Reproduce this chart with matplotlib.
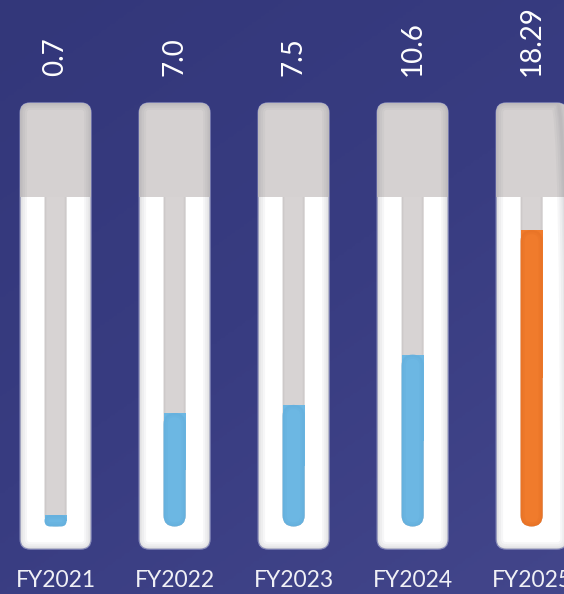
import numpy as np
import matplotlib.pyplot as plt
from matplotlib.patches import FancyBboxPatch, Rectangle
from matplotlib.colors import LinearSegmentedColormap

# data
years = ["FY2021", "FY2022", "FY2023", "FY2024", "FY2025"]
values = [0.7, 7.0, 7.5, 10.6, 18.29]
value_labels = ["0.7", "7.0", "7.5", "10.6", "18.29"]
highlight = "FY2025"

W, H = 564, 594
fig = plt.figure(figsize=(W / 100, H / 100), dpi=100)
ax = fig.add_axes([0, 0, 1, 1])

x_lo, x_hi = -0.467, 4.272
y_lo, y_hi = -4.17, 32.49
ax.set_xlim(x_lo, x_hi)
ax.set_ylim(y_lo, y_hi)
ax.axis("off")

# size of one pixel in data units, used for rounded corners
px_x = (x_hi - x_lo) / W
px_y = (y_hi - y_lo) / H
aspect = px_y / px_x

# background gradient (dark blue top left, slightly lighter bottom right)
bg = LinearSegmentedColormap.from_list("bg", ["#33377a", "#383c81", "#43468b"])
gx, gy = np.meshgrid(np.linspace(0, 1, 200), np.linspace(0, 1, 200))
ax.imshow(0.4 * gx + 0.6 * gy, cmap=bg, extent=(x_lo, x_hi, y_lo, y_hi),
          aspect="auto", zorder=0, origin="upper")

tube_w = 71 * px_x
chan_w = 22 * px_x
tube_top, tube_bot = 26.14, -1.40
cap_bot = 20.33
label_y = 27.8
year_y = -3.73


def box(x0, y0, w, h, r_px, **kw):
    p = FancyBboxPatch((x0, y0), w, h,
                       boxstyle=f"round,pad=0,rounding_size={r_px * px_x}",
                       mutation_aspect=aspect, **kw)
    ax.add_patch(p)
    return p


def shade(x0, y0, w, h, r_px, base, color, widths, alpha, z):
    for lw in widths:
        s = box(x0, y0, w, h, r_px, facecolor="none", edgecolor=color,
                linewidth=lw, alpha=alpha, zorder=z)
        s.set_clip_path(base)


for i, (yr, v, lab) in enumerate(zip(years, values, value_labels)):
    x0 = i - tube_w / 2
    # outer tube
    tube = box(x0, tube_bot, tube_w, tube_top - tube_bot, 10,
               facecolor="white", edgecolor="#8e92c2", linewidth=0.8, zorder=2)

    # inner channel (its top is hidden under the cap)
    cx0 = i - chan_w / 2
    chan = box(cx0, 0, chan_w, cap_bot + 1, 11,
               facecolor="#d7d3d3", edgecolor="none", zorder=3)
    shade(cx0, 0, chan_w, cap_bot + 1, 11, chan, "#8a8686", [3, 1.5], 0.07, 3.5)

    # liquid
    col, dark = ("#f07b2c", "#dc6a20") if yr == highlight else ("#6cb7e3", "#5ca7d7")
    r = min(11, (v / px_y) / 2)
    liq = box(cx0, 0, chan_w, v, r, facecolor=col, edgecolor="none", zorder=4)
    top = Rectangle((cx0, v / 2), chan_w, v / 2, facecolor=col,
                    edgecolor="none", zorder=4)
    ax.add_patch(top)
    shade(cx0, 0, chan_w, v, r, liq, dark, [6, 3], 0.18, 4.5)

    # grey cap
    cap = Rectangle((x0, cap_bot), tube_w, tube_top - cap_bot,
                    facecolor="#d5d1d1", edgecolor="none", zorder=5)
    ax.add_patch(cap)
    cap.set_clip_path(tube)
    shade(x0, tube_bot, tube_w, tube_top - tube_bot, 10, tube,
          "#6e6e78", [10, 7, 4, 2], 0.06, 6)

    ax.text(i, label_y, lab, rotation=90, ha="center", va="bottom",
            fontsize=20, color="white", family="Lato", weight="normal", zorder=8)
    ax.text(i, year_y, yr, ha="center", va="baseline",
            fontsize=16.5, color="#f0f0f6", family="Lato", weight="normal", zorder=8)

fig.savefig("out.png", dpi=100)
